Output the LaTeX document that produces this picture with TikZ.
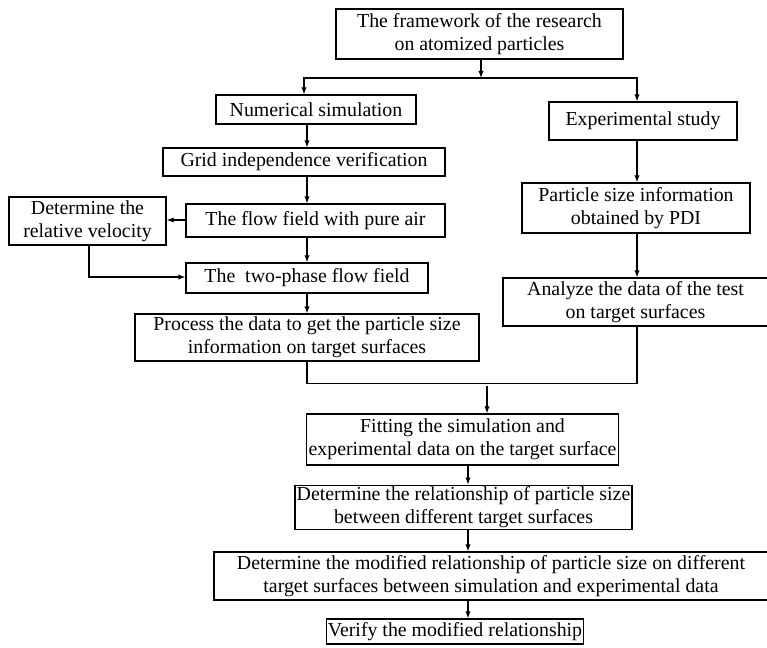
\documentclass[tikz,border=0pt]{standalone}
\usepackage{fontspec}
\setmainfont{Liberation Serif}
\usetikzlibrary{arrows.meta}
\tikzset{
  flow arrow/.style={-{Latex[length=4pt,width=3pt]}, line width=0.6pt},
  flow line/.style={line width=0.6pt},
  box/.style={draw, line width=0.7pt, align=center, inner sep=1pt,
    font=\fontsize{11.3}{13}\selectfont},
}
\begin{document}
\begin{tikzpicture}
  \useasboundingbox (0,0) rectangle (15.34,-12.94);

  % Boxes
  \node[box, minimum width=5.74cm, minimum height=1.00cm] (frame) at (9.59,-0.68) {The framework of the research\\on atomized particles};
  \node[box, minimum width=4.00cm, minimum height=0.58cm] (num) at (6.32,-2.19) {Numerical simulation};
  \node[box, minimum width=3.76cm, minimum height=0.76cm] (exp) at (12.86,-2.42) {Experimental study};
  \node[box, minimum width=5.64cm, minimum height=0.56cm] (grid) at (6.08,-3.24) {Grid independence verification};
  \node[box, minimum width=5.18cm, minimum height=0.66cm] (air) at (6.31,-4.41) {The flow field with pure air};
  \node[box, minimum width=3.14cm, minimum height=0.96cm] (vel) at (1.75,-4.42) {Determine the\\relative velocity};
  \node[box, minimum width=4.84cm, minimum height=0.60cm] (two) at (6.14,-5.56) {The \ two-phase flow field};
  \node[box, minimum width=4.56cm, minimum height=1.00cm] (pdi) at (12.72,-4.16) {Particle size information\\obtained by PDI};
  \node[box, minimum width=5.30cm, minimum height=0.96cm] (test) at (12.71,-6.04) {Analyze the data of the test\\on target surfaces};
  \node[box, minimum width=6.88cm, minimum height=0.94cm] (proc) at (6.14,-6.75) {Process the data to get the particle size\\information on target surfaces};
  \node[box, minimum width=6.22cm, minimum height=1.02cm] (fit) at (9.25,-8.79) {Fitting the simulation and\\experimental data on the target surface};
  \node[box, minimum width=6.66cm, minimum height=0.78cm] (rel) at (9.27,-10.15) {Determine the relationship of particle size\\between different target surfaces};
  \node[box, minimum width=11.08cm, minimum height=0.96cm] (mod) at (9.82,-11.52) {Determine the modified relationship of particle size on different\\target surfaces between simulation and experimental data};
  \node[box, minimum width=5.10cm, minimum height=0.50cm] (ver) at (9.10,-12.63) {Verify the modified relationship};

  % Guide points
  \coordinate (split) at (9.62,-1.56);
  \coordinate (lx) at (6.14,0);
  \coordinate (lsplit) at (6.08,0);
  \coordinate (rx) at (12.74,0);
  \coordinate (bend) at (1.78,-5.54);
  \coordinate (merge) at (9.74,-7.72);
  \coordinate (bx) at (9.36,0);

  % Top split
  \draw[flow arrow] (frame.south -| split) -- (split);
  \draw[flow arrow] (split) -| (num.north -| lsplit);
  \draw[flow arrow] (split) -| (exp.north -| rx);

  % Numerical branch
  \draw[flow arrow] (num.south -| lx) -- (grid.north -| lx);
  \draw[flow arrow] (grid.south -| lx) -- (air.north -| lx);
  \draw[flow arrow] (air.west |- 0,-4.40) -- (vel.east |- 0,-4.40);
  \draw[flow arrow] (air.south -| lx) -- (two.north -| lx);
  \draw[flow arrow] (vel.south -| bend) -- (bend) -- (two.west |- bend);
  \draw[flow arrow] (two.south -| lx) -- (proc.north -| lx);

  % Experimental branch
  \draw[flow arrow] (exp.south -| rx) -- (pdi.north -| rx);
  \draw[flow arrow] (pdi.south -| rx) -- (test.north -| rx);

  % Merge
  \draw[flow line] (proc.south -| lx) -- ++(0,-0.44) -| (test.south -| rx);
  \draw[flow arrow] (merge) -- (fit.north -| merge);

  % Final chain
  \draw[flow arrow] (fit.south -| bx) -- (rel.north -| bx);
  \draw[flow arrow] (rel.south -| bx) -- (mod.north -| bx);
  \draw[flow arrow] (mod.south -| bx) -- (ver.north -| bx);
\end{tikzpicture}
\end{document}
